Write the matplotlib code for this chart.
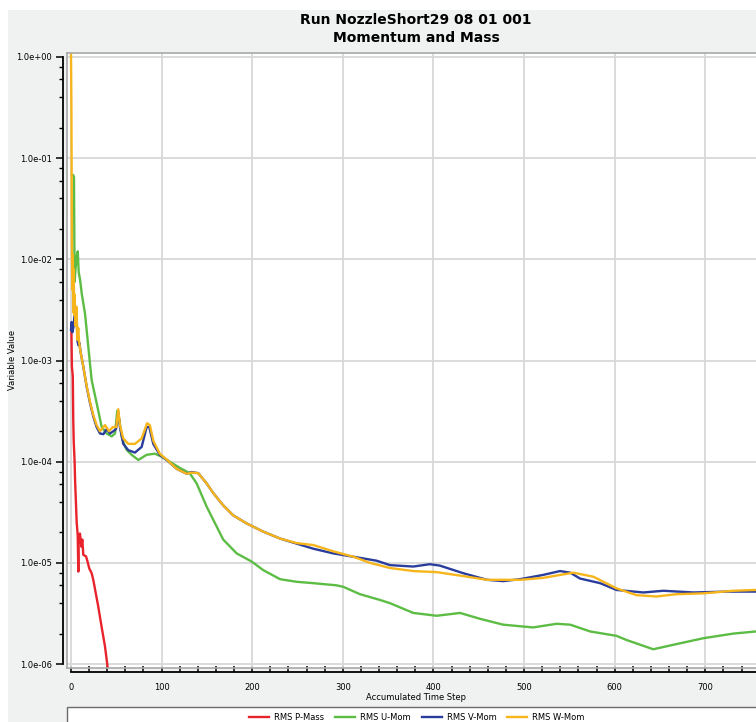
import matplotlib
matplotlib.use("Agg")
import matplotlib.pyplot as plt
from matplotlib.patches import Rectangle
from matplotlib.ticker import FixedLocator, NullFormatter

# ---------------- data ----------------
p_steps = [0.5, 1, 2, 2.5, 3, 4, 4.5, 6.3, 7.4, 8.1, 8.5, 9.9, 11.4, 12.5, 13.6, 16.6, 18,
           20.2, 22.8, 24.6, 30.1, 33.9, 37.5, 41]
p_vals = [1.9e-3, 8.7e-4, 7e-4, 2.6e-4, 1.6e-4, 1.0e-4, 6.6e-5, 2.5e-5, 1.9e-5, 8.2e-6, 1.85e-5,
          1.95e-5, 1.45e-5, 1.7e-5, 1.2e-5, 1.16e-5, 1.05e-5, 8.8e-6, 7.9e-6, 6.8e-6, 3.7e-6,
          2.3e-6, 1.5e-6, 8.5e-7]

u_steps = [1, 2.5, 3.3, 4, 5, 6.5, 7.5, 8.5, 10, 12, 15.5, 19.1, 22.8, 28.3, 33.9, 39.4, 44.9,
           48.6, 51.1, 53.3, 56, 58.5, 61.4, 66.9, 74.3, 83.5, 92.7, 100, 109, 120, 131, 138.7,
           149.7, 168, 182.9, 199.4, 212, 230.7, 249, 267.5, 293, 300.5, 319, 341, 352, 377.8,
           403.6, 429.4, 451.4, 477, 510, 536, 551, 573, 602, 613, 642.6, 664.7, 697.9, 731, 756]
u_vals = [0.068, 0.068, 0.065, 0.006, 0.008, 0.011, 0.012, 0.0075, 0.0063, 0.0045, 0.0029,
          0.00137, 6.4e-4, 3.8e-4, 2.2e-4, 1.9e-4, 1.78e-4, 1.9e-4, 3.2e-4, 2.6e-4, 1.78e-4,
          1.5e-4, 1.31e-4, 1.17e-4, 1.04e-4, 1.17e-4, 1.2e-4, 1.12e-4, 1.0e-4, 8.7e-5, 7.7e-5,
          6.1e-5, 3.6e-5, 1.7e-5, 1.24e-5, 1.03e-5, 8.5e-6, 6.9e-6, 6.5e-6, 6.3e-6, 6.0e-6,
          5.8e-6, 4.9e-6, 4.3e-6, 4.0e-6, 3.2e-6, 3.0e-6, 3.2e-6, 2.8e-6, 2.45e-6, 2.3e-6,
          2.5e-6, 2.45e-6, 2.1e-6, 1.9e-6, 1.73e-6, 1.4e-6, 1.55e-6, 1.8e-6, 2.0e-6, 2.1e-6]

v_steps = [0, 0.7, 1.5, 3, 4.4, 6.3, 7, 8, 9.2, 10.7, 13.6, 17.3, 21, 24.6, 28.3, 32, 35.7,
           39.4, 43, 46.7, 49.7, 52.2, 54, 57.7, 63.2, 70.6, 78, 83.5, 86.4, 90.8, 98, 105.6,
           116.7, 127.7, 133, 140.5, 149.7, 157, 168, 179, 194, 212, 230.7, 249, 267.5, 289.5,
           311.6, 337.4, 352, 377.8, 396, 407, 433, 459, 477, 495.6, 521, 539.7, 551, 561.8,
           584, 602, 631.7, 653.8, 687, 723.7, 756]
v_vals = [2.0e-3, 2.4e-3, 1.9e-3, 2.2e-3, 3.4e-3, 2.7e-3, 1.6e-3, 1.42e-3, 1.5e-3, 1.2e-3,
          8.7e-4, 5.5e-4, 3.8e-4, 2.8e-4, 2.2e-4, 1.9e-4, 1.87e-4, 2.1e-4, 1.9e-4, 2.0e-4,
          2.1e-4, 3.1e-4, 2.2e-4, 1.5e-4, 1.3e-4, 1.23e-4, 1.4e-4, 2.2e-4, 2.2e-4, 1.5e-4,
          1.17e-4, 1.04e-4, 8.5e-5, 7.6e-5, 7.9e-5, 7.7e-5, 6.1e-5, 4.9e-5, 3.7e-5, 2.95e-5,
          2.45e-5, 2.04e-5, 1.74e-5, 1.55e-5, 1.38e-5, 1.24e-5, 1.15e-5, 1.05e-5, 9.5e-6,
          9.2e-6, 9.7e-6, 9.4e-6, 7.9e-6, 6.8e-6, 6.6e-6, 6.9e-6, 7.6e-6, 8.3e-6, 8.0e-6,
          7.0e-6, 6.3e-6, 5.4e-6, 5.1e-6, 5.3e-6, 5.1e-6, 5.2e-6, 5.2e-6]

w_steps = [0, 0.5, 1, 1.5, 2, 2.5, 3, 3.5, 4, 5, 6, 7, 8, 9, 10.7, 13.6, 17.3, 21, 24.6, 28.3,
           32, 37.5, 42, 46, 50, 52.2, 54, 57.7, 63.2, 70.6, 78, 84, 87, 91, 98, 105.6, 116.7,
           127.7, 133, 140.5, 149.7, 157, 168, 179, 194, 212, 230.7, 249, 267.5, 289.5, 311.6,
           330, 352, 377.8, 403.6, 433, 459, 495.6, 521, 539.7, 554.4, 576.5, 602, 624, 646,
           668, 698, 731, 756]
w_vals = [1.1, 0.3, 0.015, 0.005, 0.011, 0.003, 0.008, 0.0028, 0.0045, 0.0022, 0.0034, 0.0016,
          0.0021, 0.0015, 0.0012, 8.7e-4, 5.6e-4, 3.9e-4, 2.9e-4, 2.3e-4, 2.0e-4, 2.3e-4,
          2.0e-4, 2.2e-4, 2.2e-4, 3.3e-4, 2.3e-4, 1.7e-4, 1.5e-4, 1.5e-4, 1.7e-4, 2.4e-4,
          2.3e-4, 1.6e-4, 1.2e-4, 1.05e-4, 8.5e-5, 7.6e-5, 7.8e-5, 7.7e-5, 6.1e-5, 4.9e-5,
          3.7e-5, 2.95e-5, 2.45e-5, 2.04e-5, 1.74e-5, 1.57e-5, 1.5e-5, 1.3e-5, 1.15e-5, 1.0e-5,
          8.9e-6, 8.3e-6, 8.1e-6, 7.4e-6, 6.8e-6, 6.8e-6, 7.1e-6, 7.6e-6, 8.0e-6, 7.3e-6,
          5.6e-6, 4.8e-6, 4.65e-6, 4.9e-6, 5.0e-6, 5.3e-6, 5.4e-6]

series_names = ["RMS P-Mass", "RMS U-Mom", "RMS V-Mom", "RMS W-Mom"]
series_colors = ["#e8232b", "#5cbc44", "#2b3d9c", "#f7b51c"]

x_major = [0, 100, 200, 300, 400, 500, 600, 700]
y_major = [1e-6, 1e-5, 1e-4, 1e-3, 1e-2, 1e-1, 1e0]
y_labels = ["1.0e-06", "1.0e-05", "1.0e-04", "1.0e-03", "1.0e-02", "1.0e-01", "1.0e+00"]

title_lines = "Run NozzleShort29 08 01 001\nMomentum and Mass"

# ---------------- figure ----------------
W, H = 756, 722
fig = plt.figure(figsize=(W / 100, H / 100), dpi=100, facecolor="white")
plt.rcParams["font.family"] = ["DejaVu Sans"]

def fx(px):
    return px / W

def fy(py):
    return 1 - py / H

# gray panel
fig.patches.append(Rectangle((fx(8), -0.01), 1.0, fy(10) + 0.01, transform=fig.transFigure,
                             facecolor="#f0f1f1", edgecolor="none", zorder=-5))

ax = fig.add_axes([fx(67), fy(668), 1.0 - fx(67), fy(53) - fy(668)])
ax.set_zorder(1)
ax.set_facecolor("white")
ax.set_yscale("log")
ax.set_xlim(-4.4, 756)
ax.set_ylim(9.14e-7, 1.095)

for s in ["left", "top", "bottom"]:
    ax.spines[s].set_color("#a8a8a8")
    ax.spines[s].set_linewidth(1.2)
ax.spines["right"].set_visible(False)
ax.tick_params(which="both", length=0, labelleft=False, labelbottom=False)
ax.set_xticks(x_major)
ax.yaxis.set_major_locator(FixedLocator(y_major))
ax.yaxis.set_minor_locator(FixedLocator([]))
ax.grid(True, which="major", color="#d8d8d8", linewidth=1.3)
ax.set_axisbelow(True)

data = [(p_steps, p_vals), (u_steps, u_vals), (v_steps, v_vals), (w_steps, w_vals)]
for (xs, ys), name, col in zip(data, series_names, series_colors):
    ax.plot(xs, ys, color=col, linewidth=1.7, label=name, clip_on=True)

# x axis (separate, below the frame)
secx = ax.secondary_xaxis(-0.0068)
secx.set_xticks(x_major)
secx.set_xticklabels([str(v) for v in x_major])
secx.xaxis.set_minor_locator(FixedLocator([v for v in range(0, 760, 20) if v % 100]))
secx.tick_params(which="both", direction="in", length=4.5, width=1.1, labelsize=6,
                 pad=8, color="black")
secx.spines["bottom"].set_linewidth(1.3)
secx.spines["bottom"].set_bounds(0, 756)

# y axis (separate, left of the frame)
secy = ax.secondary_yaxis(-0.0058)
secy.yaxis.set_major_locator(FixedLocator(y_major))
secy.set_yticklabels(y_labels)
minors = [m * 10.0 ** e for e in range(-6, 0) for m in (2, 4, 6, 8)]
secy.yaxis.set_minor_locator(FixedLocator(minors))
secy.yaxis.set_minor_formatter(NullFormatter())
secy.tick_params(which="major", direction="out", length=5, width=1.1, labelsize=6, pad=3)
secy.tick_params(which="minor", direction="out", length=3, width=1.0)
secy.spines["left"].set_linewidth(1.3)
secy.spines["left"].set_bounds(1e-6, 1.0)

# titles and labels
fig.text(fx(416), fy(29), title_lines, ha="center", va="center", fontsize=10,
         fontweight="bold", linespacing=1.35)
fig.text(fx(416), fy(697), "Accumulated Time Step", ha="center", va="center", fontsize=6)
fig.text(fx(13), fy(360), "Variable Value", ha="center", va="center", fontsize=6,
         rotation=90)

# legend box
fig.patches.append(Rectangle((fx(67), -0.02), 1.0, fy(707) + 0.02, transform=fig.transFigure,
                             facecolor="white", edgecolor="#6a6a6a", linewidth=1.0, zorder=2))
handles, labels = ax.get_legend_handles_labels()
leg = fig.legend(handles, labels, loc="center", bbox_to_anchor=(fx(417), fy(717)), ncol=4,
                 frameon=False, fontsize=6, handlelength=2.4, handletextpad=0.6,
                 columnspacing=1.3, borderpad=0.0)
leg.set_zorder(3)

fig.savefig("out.png", dpi=100, facecolor="white")
